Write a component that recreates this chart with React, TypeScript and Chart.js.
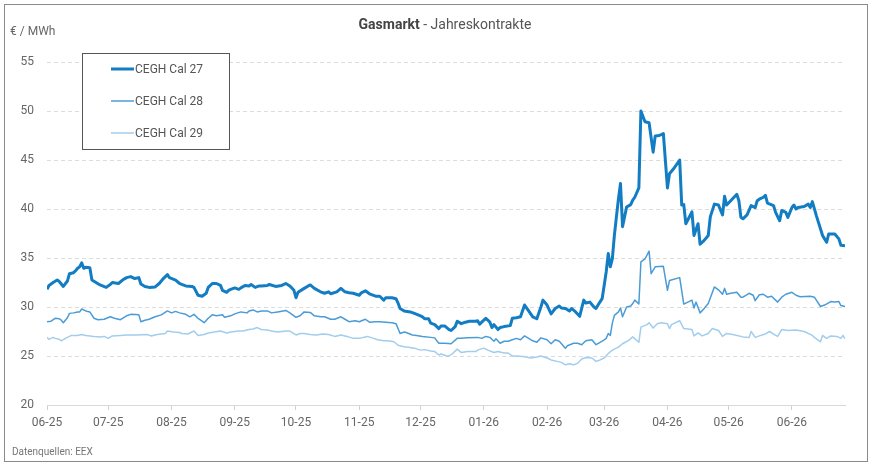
import React, { useEffect, useRef } from "react";
import { Chart, registerables } from "chart.js";

Chart.register(...registerables);

// x = trading day offset in days since 2025-06-01
const cal27Days = [0,1,3,5,6,8,10,11,13,14,15,16,17,18,19,21,22,24,26,29,31,32,35,37,39,41,43,45,46,48,50,53,55,57,59,60,63,65,66,68,71,72,74,76,78,79,81,83,85,86,88,89,90,92,94,95,97,99,100,102,104,105,108,109,112,115,117,119,121,122,123,126,128,129,131,134,136,138,139,142,144,146,148,150,153,154,156,158,161,163,165,166,169,171,172,173,175,178,180,183,184,185,187,188,190,192,193,195,197,198,200,201,203,205,207,210,211,212,213,215,217,218,219,221,222,224,227,228,230,232,234,236,238,240,242,243,245,247,249,251,252,254,256,257,259,261,263,264,266,268,269,270,272,273,274,275,276,277,278,279,280,281,282,284,286,287,288,290,291,293,295,297,298,300,302,304,305,307,310,311,312,313,316,317,319,320,322,324,325,327,329,331,332,333,335,338,339,340,341,343,345,347,348,349,351,352,353,356,357,359,360,362,363,365,366,367,368,371,373,374,375,377,380,381,382,383,386,388,389,391];
const cal27Values = [31.8,32.2,32.5,32.75,32.6,32.1,32.65,33.4,33.5,33.7,33.95,34.1,34.5,33.95,34.05,34.0,32.75,32.5,32.25,32.0,32.3,32.5,32.4,32.75,33.0,33.1,32.9,33.0,32.35,32.1,32.0,32.05,32.4,32.9,33.3,33.0,32.75,32.4,32.3,32.15,32.1,32.0,31.2,31.1,31.4,32.0,32.4,32.4,32.2,31.7,31.5,31.7,31.8,31.95,31.8,31.95,32.2,32.15,32.3,32.0,32.15,32.15,32.2,32.3,32.1,32.2,32.4,32.15,31.7,30.95,31.5,31.9,32.15,32.25,31.9,31.55,31.4,31.55,31.35,31.55,31.9,31.55,31.45,31.4,31.2,31.45,31.65,31.35,31.1,31.1,30.7,30.95,30.95,30.85,30.4,29.85,29.6,29.5,29.35,29.1,29.0,28.8,28.8,28.35,28.2,27.8,28.05,28.05,27.7,27.6,28.0,28.55,28.3,28.45,28.55,28.55,28.6,28.25,28.45,28.85,28.45,27.9,28.2,27.7,27.9,28.0,28.1,28.85,28.9,29.0,30.2,29.6,29.0,28.8,30.0,30.7,30.2,29.3,29.85,30.1,29.9,29.85,29.6,29.85,29.5,29.05,30.7,30.4,30.5,30.0,29.85,30.2,30.85,32.2,33.6,35.45,34.1,34.9,37.3,39.2,41.05,42.6,38.2,40.2,40.45,40.9,41.2,42.15,50.0,48.9,48.8,45.8,47.45,47.5,47.7,42.15,43.6,44.1,45.0,40.4,40.45,38.5,39.7,37.3,38.5,36.4,36.8,37.3,39.2,40.5,40.4,39.4,41.3,40.4,40.85,41.5,40.85,39.15,39.0,39.4,40.35,40.15,40.85,41.0,41.2,41.4,40.6,40.35,39.65,38.8,39.85,39.65,39.15,40.15,40.4,40.0,40.15,40.25,40.5,40.15,40.75,39.3,37.3,36.95,36.6,37.45,37.45,36.95,36.3,36.25];

const cal28Days = [0,2,4,6,7,8,10,11,13,15,16,17,19,21,23,25,28,31,33,36,39,41,45,46,48,50,53,56,59,61,63,65,68,70,72,74,76,77,79,81,83,86,87,90,92,95,98,99,101,103,105,108,110,113,117,119,122,124,126,129,131,134,136,139,141,144,146,148,151,153,156,158,161,163,166,169,171,173,175,176,179,181,184,188,190,191,192,193,195,198,201,203,206,211,213,215,217,219,220,222,224,226,228,230,232,234,236,238,240,242,245,247,249,251,254,255,258,260,262,264,267,269,271,273,274,275,276,277,278,280,281,282,284,286,287,288,290,291,293,295,296,298,302,304,305,310,312,314,316,317,318,320,322,324,327,329,331,332,333,335,338,340,341,344,346,347,349,351,353,355,358,360,362,365,367,369,374,376,379,381,384,386,388,389,391];
const cal28Values = [28.5,28.55,28.85,28.8,28.65,28.4,28.9,29.35,29.4,29.5,29.5,29.8,29.6,29.5,28.85,28.7,28.75,29.0,28.85,28.7,29.1,29.25,29.2,28.5,28.65,28.75,29.0,29.2,29.6,29.4,29.55,29.4,29.25,29.0,29.25,28.85,28.55,28.4,28.85,29.2,29.1,29.2,28.95,29.1,29.3,29.5,29.4,29.6,29.7,29.5,29.6,29.6,29.4,29.5,29.65,29.4,28.95,29.1,29.5,29.45,29.1,29.0,29.0,28.75,28.75,29.0,28.75,28.5,28.6,28.5,28.75,28.45,28.5,28.5,28.45,28.4,28.3,27.3,27.45,27.4,27.15,27.1,27.0,26.9,26.85,26.55,26.3,26.3,26.3,26.25,26.8,26.8,26.85,26.9,26.8,27.0,26.9,26.5,26.75,26.3,26.5,26.5,26.65,26.8,26.65,27.05,26.8,26.55,26.4,26.85,26.65,26.25,26.65,26.5,25.8,26.05,26.3,26.3,26.15,26.55,26.65,26.15,26.4,26.65,26.8,27.3,27.1,28.35,29.15,29.5,29.9,29.0,30.0,30.1,30.35,30.7,30.3,34.6,34.9,35.7,33.4,34.1,34.15,31.7,32.7,33.0,30.3,30.5,30.7,29.9,30.5,29.4,29.85,30.35,32.05,31.75,31.3,31.9,31.3,31.4,31.5,31.0,31.0,31.4,31.2,30.65,31.25,31.3,31.0,31.1,30.5,31.0,31.3,31.5,31.2,31.05,31.1,31.0,30.05,30.2,30.55,30.5,30.55,30.15,30.05];

const cal29Days = [0,1,3,4,6,7,9,10,12,15,17,19,23,26,28,30,32,36,39,44,49,51,54,58,59,62,65,66,69,72,74,77,79,82,85,88,90,94,96,99,101,103,105,108,110,113,117,119,122,124,126,129,132,135,138,141,144,147,150,153,157,160,162,165,167,170,172,175,177,180,183,185,188,190,192,193,196,197,199,201,203,206,210,211,214,216,219,221,224,226,228,230,233,235,237,240,242,245,247,250,252,254,256,258,260,262,264,267,269,271,273,275,277,280,282,285,287,290,291,294,295,297,299,301,304,305,306,310,312,316,317,319,321,324,326,329,331,333,336,341,344,345,347,349,352,354,357,358,360,363,367,371,375,376,379,380,382,384,387,389,390,391];
const cal29Values = [26.9,26.7,26.9,26.8,26.7,26.55,26.8,26.9,27.1,27.1,27.2,27.1,27.0,26.95,27.0,26.8,27.05,27.1,27.15,27.15,27.2,27.05,27.2,27.3,27.55,27.45,27.4,27.3,27.25,27.55,27.1,27.2,27.35,27.45,27.55,27.35,27.45,27.55,27.55,27.7,27.75,27.9,27.7,27.65,27.55,27.45,27.55,27.55,27.15,27.3,27.3,27.2,27.15,27.25,27.2,27.0,27.15,27.0,26.8,26.8,27.0,26.8,26.65,26.55,26.55,26.45,26.1,25.95,25.9,25.8,25.6,25.65,25.5,25.45,25.1,25.2,25.0,25.0,25.3,25.7,25.35,25.45,25.45,25.6,25.8,25.6,25.35,25.45,25.3,25.3,25.0,25.0,24.95,24.9,24.8,24.9,25.0,24.8,24.6,24.45,24.35,24.1,24.2,24.1,24.25,24.7,24.85,24.8,24.45,24.6,24.8,25.25,25.6,25.9,26.25,26.6,26.95,26.4,27.95,28.2,28.4,27.85,28.3,28.4,28.3,27.8,28.2,28.6,27.8,27.7,27.05,27.35,27.05,27.3,27.8,27.6,27.0,27.3,27.2,26.95,26.9,27.5,26.9,27.05,27.25,27.5,27.1,27.0,27.7,27.6,27.65,27.5,27.1,26.9,26.45,27.1,26.8,27.05,27.0,26.8,27.1,26.75];

const seriesLabels = ["CEGH Cal 27", "CEGH Cal 28", "CEGH Cal 29"];
const monthTickDays = [0,30,61,92,122,153,183,214,245,273,304,334,365];
const monthTickLabels = ["06-25","07-25","08-25","09-25","10-25","11-25","12-25","01-26","02-26","03-26","04-26","05-26","06-26"];
const yTicks = [20,25,30,35,40,45,50,55];

const titleBold = "Gasmarkt";
const titleRest = " - Jahreskontrakte";
const unitLabel = "€ / MWh";
const sourceLabel = "Datenquellen: EEX";

const COLORS = ["#127dc2", "#4b9cd6", "#a3cdec"];
const WIDTHS = [3, 1.5, 1.5];
const FONT = "Roboto, 'DejaVu Sans', sans-serif";

const overlayPlugin = {
  id: "overlay",
  afterDraw(chart: any) {
    const ctx = chart.ctx;
    ctx.save();
    // frame
    ctx.strokeStyle = "#8a8a8a";
    ctx.lineWidth = 1;
    ctx.strokeRect(4.5, 4.5, 863, 457);
    // title
    ctx.textBaseline = "middle";
    ctx.font = `bold 14px ${FONT}`;
    const w1 = ctx.measureText(titleBold).width;
    ctx.font = `14px ${FONT}`;
    const w2 = ctx.measureText(titleRest).width;
    const sx = 445 - (w1 + w2) / 2;
    ctx.textAlign = "left";
    ctx.font = `bold 14px ${FONT}`;
    ctx.fillStyle = "#444";
    ctx.fillText(titleBold, sx, 25);
    ctx.font = `14px ${FONT}`;
    ctx.fillStyle = "#555";
    ctx.fillText(titleRest, sx + w1, 25);
    // unit
    ctx.font = `12px ${FONT}`;
    ctx.fillStyle = "#666";
    ctx.fillText(unitLabel, 10, 32);
    // source
    ctx.font = `10px ${FONT}`;
    ctx.fillStyle = "#777";
    ctx.fillText(sourceLabel, 12, 452);
    // legend
    ctx.fillStyle = "#fff";
    ctx.fillRect(82.5, 53.5, 147, 96);
    ctx.strokeStyle = "#555";
    ctx.strokeRect(82.5, 53.5, 147, 96);
    chart.data.datasets.forEach((ds: any, i: number) => {
      const y = 69 + i * 32;
      ctx.beginPath();
      ctx.strokeStyle = ds.borderColor;
      ctx.lineWidth = ds.borderWidth;
      ctx.moveTo(111, y);
      ctx.lineTo(134, y);
      ctx.stroke();
      ctx.font = `12px ${FONT}`;
      ctx.fillStyle = "#555";
      ctx.fillText(ds.label, 135, y + 1);
    });
    ctx.restore();
  },
};

export default function App() {
  const ref = useRef<HTMLCanvasElement>(null);
  useEffect(() => {
    document.body.style.margin = "0";
    const daysArr = [cal27Days, cal28Days, cal29Days];
    const valsArr = [cal27Values, cal28Values, cal29Values];
    const chart = new Chart(ref.current as HTMLCanvasElement, {
      type: "line",
      data: {
        datasets: seriesLabels.map((label, i) => ({
          label,
          data: daysArr[i].map((d, j) => ({ x: d, y: valsArr[i][j] })),
          borderColor: COLORS[i],
          backgroundColor: COLORS[i],
          borderWidth: WIDTHS[i],
          pointRadius: 0,
          tension: 0,
          borderJoinStyle: "round" as const,
          order: i === 0 ? 0 : i,
        })),
      },
      options: {
        animation: false,
        responsive: true,
        maintainAspectRatio: false,
        layout: { padding: { top: 62, right: 27, left: 0, bottom: 0 } },
        plugins: { legend: { display: false }, title: { display: false }, tooltip: { enabled: false } },
        scales: {
          x: {
            type: "linear",
            min: 0,
            max: 391,
            afterFit: (s: any) => { s.height = 59; },
            afterBuildTicks: (s: any) => { s.ticks = monthTickDays.map((v) => ({ value: v })); },
            grid: { drawOnChartArea: false, drawTicks: true, tickLength: 5, color: "#d0d0d0" },
            border: { display: true, color: "#d9d9d9" },
            ticks: {
              autoSkip: false,
              maxRotation: 0,
              padding: 6,
              color: "#666",
              font: { family: FONT, size: 12 },
              callback: (_v: any, idx: number) => monthTickLabels[idx],
            },
          },
          y: {
            min: 20,
            max: 55,
            afterFit: (s: any) => { s.width = 47; },
            afterBuildTicks: (s: any) => { s.ticks = yTicks.map((v) => ({ value: v })); },
            grid: { color: "#dcdcdc", drawTicks: false },
            border: { display: false, dash: [4, 3] },
            ticks: { padding: 13, color: "#666", font: { family: FONT, size: 12 } },
          },
        },
      },
      plugins: [overlayPlugin],
    });
    return () => chart.destroy();
  }, []);
  return (
    <div style={{ position: "relative", width: 872, height: 464 }}>
      <canvas ref={ref} />
    </div>
  );
}
